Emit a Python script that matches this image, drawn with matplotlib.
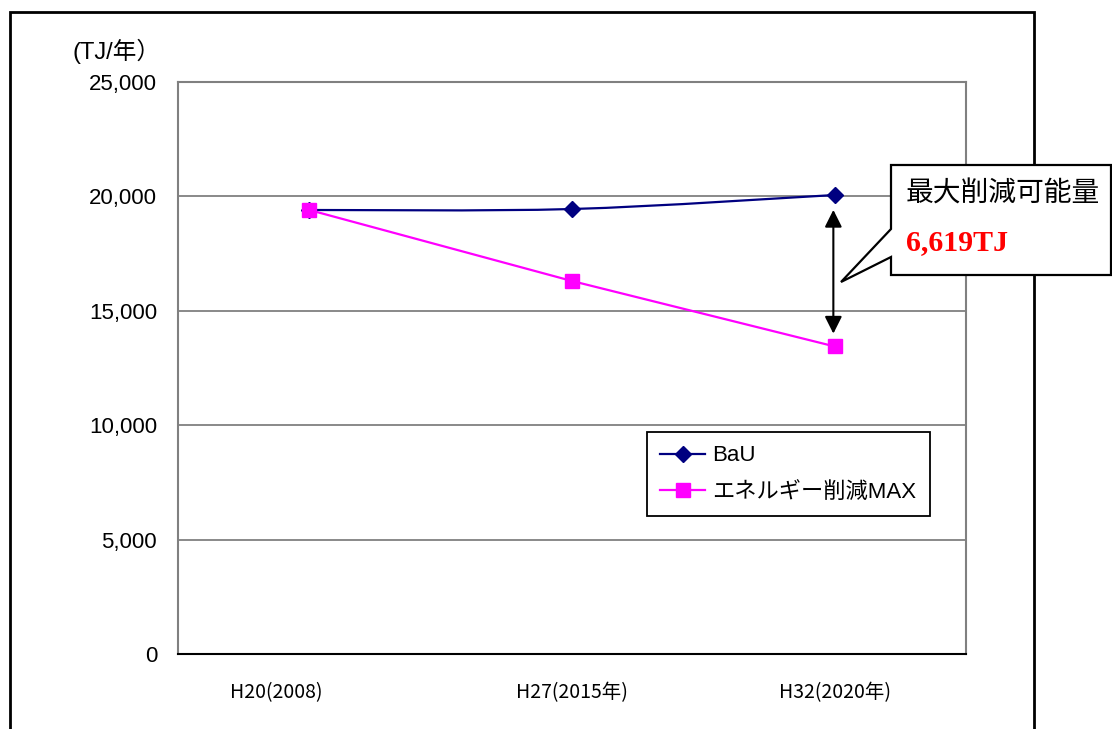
import matplotlib
matplotlib.use("Agg")
import matplotlib.pyplot as plt
import numpy as np
from matplotlib.path import Path
from matplotlib.patches import PathPatch, Polygon, Rectangle
from matplotlib.lines import Line2D
from matplotlib.transforms import ScaledTranslation

categories = ["H20(2008)", "H27(2015年)", "H32(2020年)"]
bau = [19406, 19449, 20061]
energy_max = [19406, 16302, 13442]
reduction_label = "6,619TJ"
yticks = [0, 5000, 10000, 15000, 20000, 25000]

W, H = 1112, 729
JP = ["Liberation Sans", "Noto Sans CJK JP", "DejaVu Sans"]
NARROW = ["Liberation Sans Narrow", "Noto Sans CJK JP", "DejaVu Sans"]
plt.rcParams["font.family"] = JP


def px(x, y):
    # pixel position (from top-left) -> figure fraction
    return (x / W, 1 - y / H)


fig = plt.figure(figsize=(W / 100, H / 100), dpi=100)
fig.subplots_adjust(left=178 / W, right=966 / W, top=1 - 82 / H, bottom=1 - 654 / H)
ax = fig.add_subplot(111)

x = np.arange(len(categories))

# outer chart frame
fig.patches.append(Rectangle(px(10, 760), 1024 / W, 748 / H, transform=fig.transFigure,
                             fill=False, edgecolor="black", linewidth=2, zorder=0))

# smoothed BaU line (Catmull-Rom style bezier through the data points)
pts = np.column_stack([x, bau]).astype(float)
verts = [pts[0]]
codes = [Path.MOVETO]
for i in range(len(pts) - 1):
    p_prev = pts[i - 1] if i > 0 else pts[i]
    p_next = pts[i + 2] if i + 2 < len(pts) else pts[i + 1]
    c1 = pts[i] + (pts[i + 1] - p_prev) / 6
    c2 = pts[i + 1] - (p_next - pts[i]) / 6
    verts += [c1, c2, pts[i + 1]]
    codes += [Path.CURVE4] * 3
ax.add_patch(PathPatch(Path(verts, codes), fill=False, edgecolor="#000080", linewidth=1.6, zorder=3))
ax.plot(x, bau, linestyle="none", marker="D", markersize=8, color="#000080", zorder=4)

ax.plot(x, energy_max, color="#FF00FF", linewidth=1.6, marker="s", markersize=9.5,
        markerfacecolor="#FF00FF", markeredgecolor="#FF00FF", zorder=5)

ax.set_xlim(-0.5, len(categories) - 0.5)
ax.set_ylim(0, 25000)
ax.set_yticks(yticks)
ax.set_yticklabels([f"{v:,}" for v in yticks], fontsize=16, family=JP)
ax.set_xticks(x)
ax.set_xticklabels(categories, fontsize=14, family=NARROW)
ax.tick_params(axis="both", length=0)
ax.tick_params(axis="y", pad=15)
ax.tick_params(axis="x", pad=20)
# first category label sits a bit left of its slot
first = ax.get_xticklabels()[0]
first.set_transform(first.get_transform() + ScaledTranslation(-0.33, 0, fig.dpi_scale_trans))

ax.grid(axis="y", color="#808080", linewidth=1.3)
ax.set_axisbelow(True)
for side in ["top", "left", "right"]:
    ax.spines[side].set_color("#808080")
    ax.spines[side].set_linewidth(1.5)
ax.spines["bottom"].set_color("black")
ax.spines["bottom"].set_linewidth(1.5)

fig.text(*px(73, 51), "(TJ/年）", fontsize=17, va="center", ha="left", family=JP)

# double arrow between the two 2020 values
ax.annotate("", xy=(x[2] - 0.005, energy_max[2] + 560), xytext=(x[2] - 0.005, bau[2] - 650),
            arrowprops=dict(arrowstyle="<|-|>", color="black", lw=1.5, mutation_scale=26,
                            shrinkA=0, shrinkB=0), zorder=6)

legend_handles = [
    Line2D([], [], color="#000080", marker="D", markersize=8, linewidth=1.6),
    Line2D([], [], color="#FF00FF", marker="s", markersize=9.5, linewidth=1.6),
]
leg = ax.legend(legend_handles, ["BaU", "エネルギー削減MAX"], loc="upper left",
                bbox_to_anchor=px(647, 432), bbox_transform=fig.transFigure,
                fancybox=False, framealpha=1, edgecolor="black", fontsize=16,
                handlelength=2.0, handletextpad=0.35, borderaxespad=0, borderpad=0.6,
                labelspacing=0.7)
leg.get_frame().set_linewidth(1.3)

# callout box
callout = [(891, 165), (1111, 165), (1111, 275), (891, 275), (891, 257), (841, 282), (891, 229)]
fig.patches.append(Polygon([px(a, b) for a, b in callout], closed=True, transform=fig.transFigure,
                           facecolor="white", edgecolor="black", linewidth=1.6, zorder=10))
fig.text(*px(906, 194), "最大削減可能量", fontsize=20, va="center", ha="left",
         family=["Noto Sans CJK JP", "DejaVu Sans"], zorder=11)
fig.text(*px(906, 243), reduction_label, fontsize=21.5, va="center", ha="left",
         color="#FF0000", fontweight="bold", family=["Liberation Serif", "DejaVu Serif"], zorder=11)

fig.savefig("out.png", dpi=100)
